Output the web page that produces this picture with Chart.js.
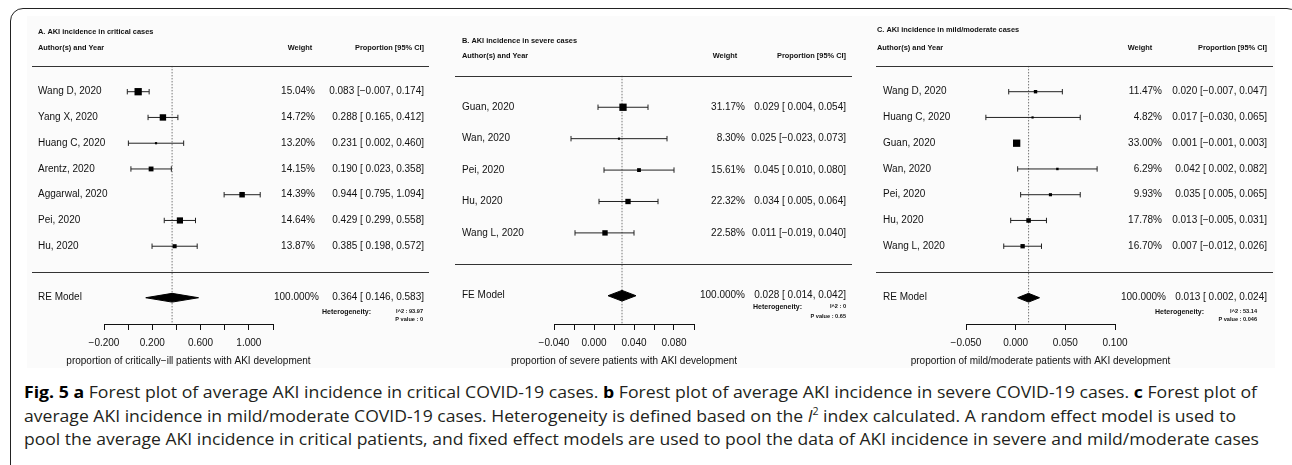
<!DOCTYPE html>
<html>
<head>
<meta charset="utf-8">
<script src="https://cdn.jsdelivr.net/npm/chart.js@4.4.0/dist/chart.umd.min.js"></script>
<style>
  body { margin: 0; width: 1292px; height: 465px; overflow: hidden; background: #fff; position: relative; }
  #frame { position: absolute; left: 10px; top: 8px; width: 1290px; height: 470px; border: 1.6px solid #222; border-radius: 13px; box-sizing: border-box; }
  #fig { position: absolute; left: 27px; top: 16px; width: 1248px; height: 352px; background: #fbfbfb; }
  canvas { position: absolute; top: 0; }
  .ln { position: absolute; left: 24px; white-space: nowrap; transform-origin: 0 0; font-family: "Open Sans", sans-serif; font-size: 16.5px; line-height: 20px; color: #231f20; }
  .ln b { color: #000; }
  .ln sup { font-size: 10px; line-height: 0; vertical-align: 7px; }
</style>
</head>
<body>
<div id="frame"></div>
<div id="fig"></div>
<canvas id="cA" width="430" height="370" style="left:0px"></canvas>
<canvas id="cB" width="430" height="370" style="left:430px"></canvas>
<canvas id="cC" width="432" height="370" style="left:860px"></canvas>

<div class="ln" data-w="1233" style="top:381.6px"><b>Fig. 5 a</b> Forest plot of average AKI incidence in critical COVID-19 cases. <b>b</b> Forest plot of average AKI incidence in severe COVID-19 cases. <b>c</b> Forest plot of</div>
<div class="ln" data-w="1212" style="top:405.6px">average AKI incidence in mild/moderate COVID-19 cases. Heterogeneity is defined based on the <i>I</i><sup>2</sup> index calculated. A random effect model is used to</div>
<div class="ln" data-w="1235" style="top:428.6px">pool the average AKI incidence in critical patients, and fixed effect models are used to pool the data of AKI incidence in severe and mild/moderate cases</div>

<script>
// A. critical cases
const critLabels = ["Wang D, 2020", "Yang X, 2020", "Huang C, 2020", "Arentz, 2020", "Aggarwal, 2020", "Pei, 2020", "Hu, 2020"];
const critWeights = [15.04, 14.72, 13.20, 14.15, 14.39, 14.64, 13.87];
const critEst = [0.083, 0.288, 0.231, 0.190, 0.944, 0.429, 0.385];
const critLower = [-0.007, 0.165, 0.002, 0.023, 0.795, 0.299, 0.198];
const critUpper = [0.174, 0.412, 0.460, 0.358, 1.094, 0.558, 0.572];
const critPooled = [0.364, 0.146, 0.583];
const critHet = ["93.97", "0"];
const critTicks = [-0.2, 0, 0.2, 0.4, 0.6, 0.8, 1.0, 1.2];
const critTickLabels = ["\u22120.200", "", "0.200", "", "0.600", "", "1.000", ""];

// B. severe cases
const sevLabels = ["Guan, 2020", "Wan, 2020", "Pei, 2020", "Hu, 2020", "Wang L, 2020"];
const sevWeights = [31.17, 8.30, 15.61, 22.32, 22.58];
const sevEst = [0.029, 0.025, 0.045, 0.034, 0.011];
const sevLower = [0.004, -0.023, 0.010, 0.005, -0.019];
const sevUpper = [0.054, 0.073, 0.080, 0.064, 0.040];
const sevPooled = [0.028, 0.014, 0.042];
const sevHet = ["0", "0.65"];
const sevTicks = [-0.04, -0.02, 0, 0.02, 0.04, 0.06, 0.08, 0.10];
const sevTickLabels = ["\u22120.040", "", "0.000", "", "0.040", "", "0.080", ""];

// C. mild/moderate cases
const mildLabels = ["Wang D, 2020", "Huang C, 2020", "Guan, 2020", "Wan, 2020", "Pei, 2020", "Hu, 2020", "Wang L, 2020"];
const mildWeights = [11.47, 4.82, 33.00, 6.29, 9.93, 17.78, 16.70];
const mildEst = [0.020, 0.017, 0.001, 0.042, 0.035, 0.013, 0.007];
const mildLower = [-0.007, -0.030, -0.001, 0.002, 0.005, -0.005, -0.012];
const mildUpper = [0.047, 0.065, 0.003, 0.082, 0.065, 0.031, 0.026];
const mildPooled = [0.013, 0.002, 0.024];
const mildHet = ["53.14", "0.046"];
const mildTicks = [-0.05, 0, 0.05, 0.10];
const mildTickLabels = ["\u22120.050", "0.000", "0.050", "0.100"];

const FONT = '"Liberation Sans", Arial, sans-serif';
const INK = "#111";

function fmt(v) {
  return (v < 0 ? "\u2212" : "") + Math.abs(v).toFixed(3);
}
function ciText(e, lo, hi) {
  return fmt(e) + " [" + (lo < 0 ? "" : " ") + fmt(lo) + ", " + fmt(hi) + "]";
}

const forestText = {
  id: "forestText",
  afterDraw(chart, args, o) {
    const p = o.panel;
    const L = p.left;
    const y = chart.scales.y;
    const k = p.labels.length;
    const ctx = chart.ctx;
    ctx.save();
    ctx.fillStyle = INK;
    ctx.textBaseline = "middle";

    ctx.font = "bold 7.4px " + FONT;
    ctx.textAlign = "left";
    ctx.fillText(p.title, p.titleX - L, p.titleY);
    ctx.fillText("Author(s) and Year", p.titleX - L, p.headY);
    ctx.textAlign = "center";
    ctx.fillText("Weight", p.weightHeadX - L, p.headY);
    ctx.textAlign = "right";
    ctx.fillText("Proportion [95% CI]", p.ciX - L, p.headY);

    ctx.strokeStyle = "#333";
    ctx.lineWidth = 1;
    [k + 1, 0].forEach((r) => {
      const yy = Math.round(y.getPixelForValue(r)) + 0.5;
      ctx.beginPath();
      ctx.moveTo(p.lineL - L, yy);
      ctx.lineTo(p.lineR - L, yy);
      ctx.stroke();
    });

    ctx.font = "10px " + FONT;
    p.labels.forEach((lab, i) => {
      const yy = y.getPixelForValue(k - i);
      ctx.textAlign = "left";
      ctx.fillText(lab, p.labelX - L, yy);
      ctx.textAlign = "right";
      ctx.fillText(p.weights[i].toFixed(2) + "%", p.weightX - L, yy);
      ctx.fillText(ciText(p.est[i], p.lower[i], p.upper[i]), p.ciX - L, yy);
    });

    const my = y.getPixelForValue(-1);
    ctx.textAlign = "left";
    ctx.fillText(p.model, p.labelX - L, my);
    ctx.textAlign = "right";
    ctx.fillText((100).toFixed(3) + "%", p.modelWeightX - L, my);
    ctx.fillText(ciText(p.pooled[0], p.pooled[1], p.pooled[2]), p.ciX - L, my);

    // x axis title, centred under the axis
    ctx.textAlign = "center";
    ctx.fillText(p.xTitle, (p.axL + p.axR) / 2 - L, 361);

    ctx.font = "bold 7px " + FONT;
    ctx.textAlign = "left";
    ctx.fillText("Heterogeneity:", p.hetX - L, my + p.hetDy[0]);
    ctx.font = "bold 5.6px " + FONT;
    ctx.textAlign = "right";
    ctx.fillText("I^2 : " + p.het[0], p.hetRX - L, my + p.hetDy[0]);
    ctx.fillText("P value : " + p.het[1], p.hetRX - L, my + p.hetDy[1]);
    ctx.restore();
  }
};

function forest(id, p) {
  const k = p.labels.length;
  const wmin = Math.min(...p.weights);
  const wmax = Math.max(...p.weights);
  const side = (w) => 2.2 + ((w - wmin) / (wmax - wmin)) * 5.1;
  const ymin = p.ymin;

  const datasets = [];
  // study squares
  datasets.push({
    data: p.est.map((e, i) => ({ x: e, y: k - i })),
    pointStyle: "rect",
    pointRadius: p.weights.map((w) => side(w) / Math.SQRT2),
    pointBackgroundColor: "#000",
    pointBorderWidth: 0,
    order: 0
  });
  // pooled diamond
  const [pe, plo, phi] = p.pooled;
  datasets.push({
    data: [
      { x: plo, y: -1 }, { x: pe, y: -1 + 0.17 }, { x: phi, y: -1 },
      { x: pe, y: -1 - 0.17 }, { x: plo, y: -1 }
    ],
    showLine: true,
    fill: "shape",
    tension: 0,
    backgroundColor: "#000",
    borderColor: "#000",
    borderWidth: 1,
    pointRadius: 0,
    order: 0
  });
  // confidence intervals
  p.est.forEach((e, i) => {
    datasets.push({
      data: [{ x: p.lower[i], y: k - i }, { x: p.upper[i], y: k - i }],
      showLine: true,
      borderColor: "#222",
      borderWidth: 1,
      pointStyle: "line",
      pointRotation: 90,
      pointRadius: 2.7,
      pointBorderColor: "#222",
      pointBorderWidth: 1,
      order: 1
    });
  });
  // dotted reference line at pooled estimate
  datasets.push({
    data: [{ x: pe, y: k + 1 }, { x: pe, y: ymin }],
    showLine: true,
    borderColor: "#777",
    borderWidth: 1,
    borderDash: [1.5, 1.5],
    pointRadius: 0,
    order: 2
  });

  new Chart(document.getElementById(id), {
    type: "scatter",
    data: { datasets: datasets },
    options: {
      responsive: false,
      devicePixelRatio: 1,
      animation: false,
      events: [],
      clip: false,
      layout: { padding: { left: p.axL - p.left, right: p.left + p.width - p.axR, top: 0, bottom: 0 } },
      plugins: { legend: { display: false }, tooltip: { enabled: false }, forestText: { panel: p } },
      scales: {
        x: {
          type: "linear",
          min: p.ticks[0],
          max: p.ticks[p.ticks.length - 1],
          afterBuildTicks: (s) => { s.ticks = p.ticks.map((v) => ({ value: v })); },
          afterFit: (s) => { s.height = 46; },
          ticks: {
            autoSkip: false,
            maxRotation: 0,
            padding: 7,
            color: INK,
            font: { family: FONT, size: 10 },
            callback: (v, i) => p.tickLabels[i]
          },
          grid: { drawOnChartArea: false, drawTicks: true, tickLength: 6, color: INK },
          border: { display: true, color: INK, width: 1 }
        },
        y: { type: "linear", display: false, min: p.ymin, max: p.ymax }
      }
    },
    plugins: [forestText]
  });
}

forest("cA", {
  title: "A. AKI incidence in critical cases", model: "RE Model",
  labels: critLabels, weights: critWeights, est: critEst, lower: critLower, upper: critUpper,
  pooled: critPooled, het: critHet, ticks: critTicks, tickLabels: critTickLabels,
  xTitle: "proportion of critically\u2212ill patients with AKI development",
  left: 0, width: 430, axL: 104, axR: 273, ymin: -2.02, ymax: 10.36,
  titleX: 38, titleY: 32, headY: 48, labelX: 38, weightHeadX: 300, weightX: 315, modelWeightX: 319,
  ciX: 424, lineL: 32, lineR: 429, hetX: 322, hetRX: 423, hetDy: [14, 22]
});
forest("cB", {
  title: "B. AKI incidence in severe cases", model: "FE Model",
  labels: sevLabels, weights: sevWeights, est: sevEst, lower: sevLower, upper: sevUpper,
  pooled: sevPooled, het: sevHet, ticks: sevTicks, tickLabels: sevTickLabels,
  xTitle: "proportion of severe patients with AKI development",
  left: 430, width: 430, axL: 554, axR: 694, ymin: -1.90, ymax: 8.25,
  titleX: 462, titleY: 41, headY: 56, labelX: 462, weightHeadX: 725, weightX: 745, modelWeightX: 745,
  ciX: 846, lineL: 455, lineR: 852, hetX: 753, hetRX: 846, hetDy: [11, 21]
});
forest("cC", {
  title: "C. AKI incidence in mild/moderate cases", model: "RE Model",
  labels: mildLabels, weights: mildWeights, est: mildEst, lower: mildLower, upper: mildUpper,
  pooled: mildPooled, het: mildHet, ticks: mildTicks, tickLabels: mildTickLabels,
  xTitle: "proportion of mild/moderate patients with AKI development",
  left: 860, width: 432, axL: 966, axR: 1115, ymin: -2.02, ymax: 10.36,
  titleX: 877, titleY: 30, headY: 48, labelX: 883, weightHeadX: 1140, weightX: 1162, modelWeightX: 1166,
  ciX: 1267, lineL: 876, lineR: 1273, hetX: 1155, hetRX: 1257, hetDy: [14, 22]
});

// squeeze caption lines to the widths of the printed figure legend
function fitCaption() {
  document.querySelectorAll(".ln").forEach((el) => {
    el.style.transform = "none";
    const w = el.getBoundingClientRect().width;
    el.style.transform = "scaleX(" + (Number(el.dataset.w) / w) + ")";
  });
}
fitCaption();
if (document.fonts && document.fonts.ready) document.fonts.ready.then(fitCaption);
</script>
</body>
</html>
